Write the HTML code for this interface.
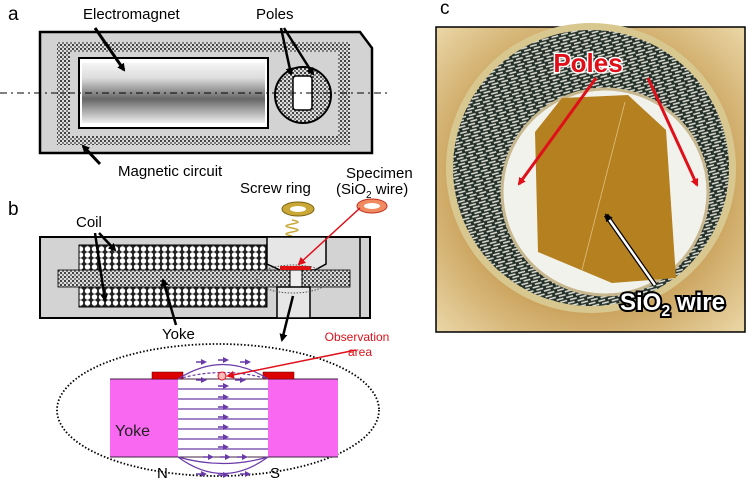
<!DOCTYPE html>
<html><head><meta charset="utf-8"><style>
html,body{margin:0;padding:0;background:#fff;width:750px;height:484px;overflow:hidden}
text{font-family:"Liberation Sans",sans-serif}
</style></head><body>
<svg width="750" height="484" viewBox="0 0 750 484" xmlns="http://www.w3.org/2000/svg">
<defs>
<pattern id="dots" width="4" height="4" patternUnits="userSpaceOnUse"><rect width="4" height="4" fill="#ddd"/><circle cx="1" cy="1" r="1" fill="#111"/><circle cx="3" cy="3" r="0.9" fill="#333"/></pattern>
<pattern id="coil" width="7" height="6" patternUnits="userSpaceOnUse"><rect width="7" height="6" fill="#222"/><circle cx="3.5" cy="3" r="2.7" fill="#fff"/></pattern>
<linearGradient id="cyl" x1="0" y1="0" x2="0" y2="1"><stop offset="0" stop-color="#f4f4f4"/><stop offset="0.25" stop-color="#ddd"/><stop offset="0.6" stop-color="#666"/><stop offset="0.85" stop-color="#bbb"/><stop offset="1" stop-color="#eee"/></linearGradient>
<radialGradient id="bg" cx="0.5" cy="0.5" r="0.7"><stop offset="0.6" stop-color="#c9a15a"/><stop offset="1" stop-color="#ead6a6"/></radialGradient>
<pattern id="scratch" width="10" height="6" patternUnits="userSpaceOnUse" patternTransform="rotate(-15)"><rect width="10" height="6" fill="#24302a"/><path d="M0 2H7M3 5H10" stroke="#e4e4d8" stroke-width="1.4"/></pattern>
<marker id="ab" markerWidth="8" markerHeight="8" refX="6" refY="4" orient="auto" markerUnits="userSpaceOnUse"><path d="M0 0L8 4L0 8z" fill="#000"/></marker>
<marker id="ar" markerWidth="8" markerHeight="8" refX="6" refY="4" orient="auto" markerUnits="userSpaceOnUse"><path d="M0 0L8 4L0 8z" fill="#e0101a"/></marker>
<marker id="ap" markerWidth="6" markerHeight="6" refX="3" refY="3" orient="auto" markerUnits="userSpaceOnUse"><path d="M0 0L6 3L0 6z" fill="#6a3aa8"/></marker>
</defs>

<!-- Panel a -->
<text x="8" y="20" font-size="19">a</text>
<text x="83" y="19" font-size="15">Electromagnet</text>
<text x="256" y="19" font-size="15">Poles</text>
<path d="M40 32H360L372 48V153H40Z" fill="#d3d3d3" stroke="#000" stroke-width="2.5"/>
<path d="M57 42H350V145H57Z M70 52V136H338V52Z" fill="url(#dots)" fill-rule="evenodd"/>
<rect x="79" y="58" width="189" height="70" fill="#fff" stroke="#000" stroke-width="2"/>
<rect x="82" y="63" width="183" height="60" fill="url(#cyl)"/>
<circle cx="303" cy="95" r="28" fill="url(#dots)" stroke="#000" stroke-width="2"/>
<rect x="293" y="76" width="19" height="34" rx="3" fill="#fff" stroke="#000" stroke-width="1.5"/>
<line x1="0" y1="93" x2="390" y2="93" stroke="#000" stroke-width="1" stroke-dasharray="7,4,2,4"/>
<line x1="95" y1="28" x2="124" y2="70" stroke="#000" stroke-width="3" marker-end="url(#ab)"/>
<line x1="281" y1="28" x2="291" y2="74" stroke="#000" stroke-width="2.5" marker-end="url(#ab)"/>
<line x1="284" y1="28" x2="313" y2="74" stroke="#000" stroke-width="2.5" marker-end="url(#ab)"/>
<line x1="100" y1="164" x2="83" y2="146" stroke="#000" stroke-width="3" marker-end="url(#ab)"/>
<text x="118" y="176" font-size="15">Magnetic circuit</text>

<!-- Panel b -->
<text x="8" y="215" font-size="19">b</text>
<text x="240" y="193" font-size="15">Screw ring</text>
<text x="346" y="178" font-size="15">Specimen</text>
<text x="336" y="194" font-size="15">(SiO<tspan font-size="10" dy="4">2</tspan><tspan dy="-4"> wire)</tspan></text>
<ellipse cx="298" cy="209" rx="16" ry="7" fill="#c9a838" stroke="#7a6410" stroke-width="1"/>
<ellipse cx="298" cy="209" rx="8" ry="3" fill="#fff"/>
<path d="M292 220 q12 2 0 4 q-12 2 0 4 q12 2 0 4 q-12 2 0 4" stroke="#c9a838" fill="none" stroke-width="1.5"/>
<ellipse cx="372" cy="206" rx="15" ry="7" fill="#f08a60" stroke="#c03020"/>
<ellipse cx="372" cy="206" rx="8" ry="3" fill="#fff"/>
<text x="76" y="227" font-size="15">Coil</text>
<rect x="40" y="237" width="330" height="81" fill="#d3d3d3" stroke="#000" stroke-width="2"/>
<line x1="360" y1="237" x2="360" y2="318" stroke="#000" stroke-width="1.5"/>
<rect x="79" y="245" width="188" height="62" fill="url(#coil)" stroke="#000"/>
<path d="M267 237H326V264L315 270H280L267 264Z" fill="#e6e6e6" stroke="#000" stroke-width="1.5"/>
<rect x="58" y="270" width="292" height="17" fill="url(#dots)" stroke="#000" stroke-width="0.8"/>
<rect x="290" y="270" width="12" height="17" fill="#eee" stroke="#000"/>
<rect x="277" y="287" width="33" height="31" fill="#e6e6e6" stroke="#000" stroke-width="1.5"/>
<rect x="280" y="266" width="31" height="4" fill="#e01010"/>
<ellipse cx="293" cy="279" rx="36" ry="14" fill="none" stroke="#555" stroke-dasharray="1.5,1.5"/>
<line x1="360" y1="208" x2="299" y2="264" stroke="#e0101a" stroke-width="1.5" marker-end="url(#ar)"/>
<line x1="99" y1="233" x2="115" y2="250" stroke="#000" stroke-width="2.5" marker-end="url(#ab)"/>
<line x1="95" y1="233" x2="105" y2="300" stroke="#000" stroke-width="2.5" marker-end="url(#ab)"/>
<line x1="176" y1="325" x2="163" y2="280" stroke="#000" stroke-width="2.5" marker-end="url(#ab)"/>
<text x="162" y="339" font-size="15">Yoke</text>
<line x1="293" y1="296" x2="282" y2="340" stroke="#000" stroke-width="2.5" marker-end="url(#ab)"/>

<ellipse cx="218" cy="410" rx="161" ry="66" fill="none" stroke="#000" stroke-width="1.8" stroke-dasharray="1.5,2"/>
<rect x="110" y="379" width="68" height="78" fill="#f868f0"/>
<rect x="268" y="379" width="70" height="78" fill="#f868f0"/>
<line x1="110" y1="379" x2="338" y2="379" stroke="#402040" stroke-width="1"/>
<line x1="110" y1="457" x2="338" y2="457" stroke="#402040" stroke-width="1"/>
<rect x="152" y="372" width="31" height="7" fill="#d00" stroke="#600" stroke-width="0.5"/>
<rect x="263" y="372" width="31" height="7" fill="#d00" stroke="#600" stroke-width="0.5"/>
<g stroke="#6a3aa8" stroke-width="1.2" fill="none">
<path d="M178 379Q223 350 268 379"/><path d="M178 379Q223 366 268 379" stroke-dasharray="3,2"/>
<path d="M178 457Q223 470 268 457"/><path d="M178 457Q223 490 268 457"/>
<path d="M178 389H268M178 399H268M178 409H268M178 419H268M178 429H268M178 439H268M178 449H268"/>
</g>
<g stroke="#6a3aa8" stroke-width="1.5">
<line x1="196" y1="362" x2="204" y2="362" marker-end="url(#ap)"/><line x1="218" y1="360" x2="226" y2="360" marker-end="url(#ap)"/><line x1="240" y1="362" x2="248" y2="362" marker-end="url(#ap)"/>
<line x1="196" y1="380" x2="204" y2="380" marker-end="url(#ap)"/><line x1="235" y1="380" x2="243" y2="380" marker-end="url(#ap)"/>
<line x1="218" y1="386" x2="226" y2="386" marker-end="url(#ap)"/><line x1="218" y1="397" x2="226" y2="397" marker-end="url(#ap)"/><line x1="218" y1="407" x2="226" y2="407" marker-end="url(#ap)"/><line x1="218" y1="417" x2="226" y2="417" marker-end="url(#ap)"/><line x1="218" y1="427" x2="226" y2="427" marker-end="url(#ap)"/><line x1="218" y1="437" x2="226" y2="437" marker-end="url(#ap)"/><line x1="218" y1="447" x2="226" y2="447" marker-end="url(#ap)"/>
<line x1="203" y1="457" x2="211" y2="457" marker-end="url(#ap)"/><line x1="220" y1="457" x2="228" y2="457" marker-end="url(#ap)"/><line x1="237" y1="457" x2="245" y2="457" marker-end="url(#ap)"/>
<line x1="196" y1="474" x2="204" y2="474" marker-end="url(#ap)"/><line x1="218" y1="475" x2="226" y2="475" marker-end="url(#ap)"/><line x1="240" y1="474" x2="248" y2="474" marker-end="url(#ap)"/>
</g>
<circle cx="222" cy="376" r="4" fill="#fbb" stroke="#e0101a"/>
<line x1="356" y1="350" x2="228" y2="376" stroke="#e0101a" stroke-width="1.5" marker-end="url(#ar)"/>
<text x="357" y="341" font-size="12" fill="#e0101a" text-anchor="middle">Observation</text>
<text x="360" y="356" font-size="12" fill="#e0101a" text-anchor="middle">area</text>
<text x="115" y="436" font-size="16" fill="#222">Yoke</text>
<text x="157" y="478" font-size="15">N</text>
<text x="270" y="478" font-size="15">S</text>

<!-- Panel c -->
<text x="440" y="14" font-size="19">c</text>
<rect x="436" y="27" width="309" height="305" fill="url(#bg)" stroke="#000" stroke-width="1.5"/>
<circle cx="591" cy="168" r="145" fill="#d8c890"/>
<circle cx="591" cy="168" r="138" fill="url(#scratch)"/>
<circle cx="605" cy="192" r="103" fill="#f2f2ec" stroke="#c8b890" stroke-width="3"/>
<path d="M535 132L562 98L628 95L666 130L676 278L612 283L538 252Z" fill="#b5801f"/>
<line x1="625" y1="102" x2="582" y2="270" stroke="#e0c080" stroke-width="0.8"/>
<line x1="596" y1="78" x2="519" y2="184" stroke="#e0101a" stroke-width="3" marker-end="url(#ar)"/>
<line x1="648" y1="78" x2="697" y2="185" stroke="#e0101a" stroke-width="3" marker-end="url(#ar)"/>
<text x="588" y="72" font-size="26" font-weight="bold" fill="#e0101a" stroke="#fff" stroke-width="3" paint-order="stroke" text-anchor="middle">Poles</text>
<line x1="655" y1="285" x2="606" y2="215" stroke="#000" stroke-width="5"/>
<line x1="655" y1="285" x2="606" y2="215" stroke="#fff" stroke-width="2.5" marker-end="url(#ab)"/>
<text x="620" y="310" font-size="24" font-weight="bold" fill="#fff" stroke="#000" stroke-width="4" paint-order="stroke">SiO<tspan font-size="16" dy="6">2</tspan><tspan dy="-6"> wire</tspan></text>
</svg>
</body></html>
